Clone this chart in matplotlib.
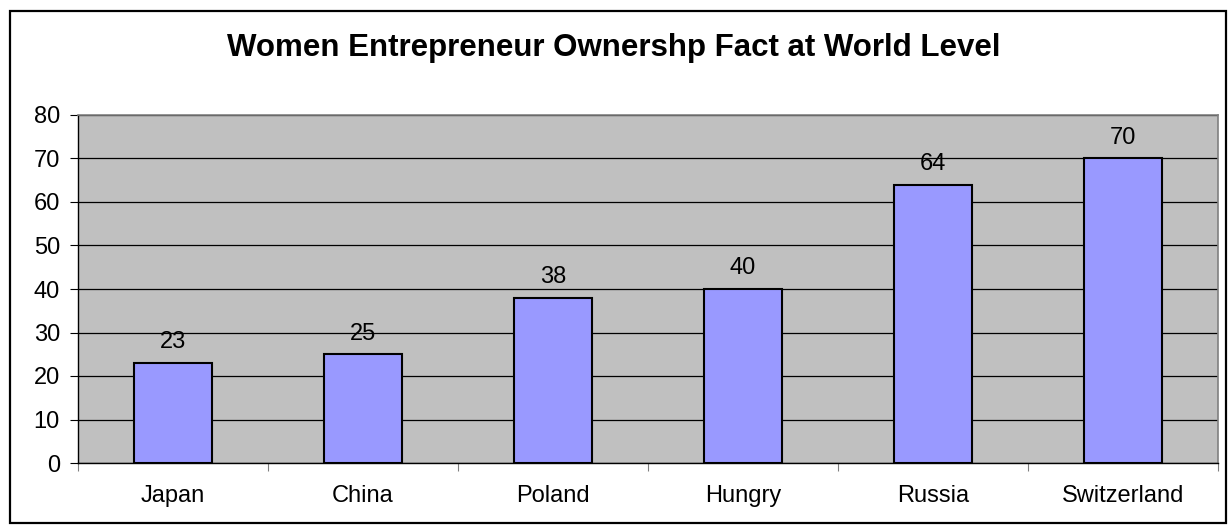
import matplotlib.pyplot as plt
from matplotlib.patches import Rectangle

categories = ["Japan", "China", "Poland", "Hungry", "Russia", "Switzerland"]
values = [23, 25, 38, 40, 64, 70]
yticks = [0, 10, 20, 30, 40, 50, 60, 70, 80]
title = "Women Entrepreneur Ownershp Fact at World Level"

plt.rcParams['font.family'] = ['Liberation Sans', 'DejaVu Sans']

W, H = 1228, 525
fig = plt.figure(figsize=(W / 100, H / 100), dpi=100)
fig.patch.set_facecolor('white')

# outer border
fig.patches.append(Rectangle((10 / W, 2 / H), (1226 - 10) / W, (514 - 2) / H,
                             transform=fig.transFigure, fill=False,
                             edgecolor='black', linewidth=1.6))

left, right, top, bottom = 78, 1218, 115, 463
ax = fig.add_axes([left / W, (H - bottom) / H, (right - left) / W, (bottom - top) / H])
ax.set_facecolor('#C0C0C0')

fs = 17
x = list(range(len(categories)))
ax.bar(x, values, width=0.415, color='#9999FF', edgecolor='black', linewidth=1.5, zorder=3)
for xi, v in zip(x, values):
    ax.annotate(str(v), (xi, v), xytext=(0, 7), textcoords='offset points',
                ha='center', va='bottom', fontsize=fs, color='black', zorder=4)

ax.set_xlim(-0.5, len(categories) - 0.5)
ax.set_ylim(0, 80)
ax.set_yticks(yticks)
ax.set_yticklabels([str(t) for t in yticks], fontsize=fs)
ax.yaxis.grid(True, color='black', linewidth=0.9, zorder=1)
ax.set_axisbelow(True)

ax.set_xticks([i + 0.5 for i in range(-1, len(categories))])
ax.set_xticklabels([])
ax.set_xticks(x, minor=True)
ax.set_xticklabels(categories, minor=True, fontsize=fs)
ax.tick_params(axis='x', which='minor', length=0, pad=16)
ax.tick_params(axis='x', which='major', length=6, width=0.8, color='#808080', direction='out')
ax.tick_params(axis='y', length=6, width=0.8, direction='out', pad=7)

for s in ['top', 'right']:
    ax.spines[s].set_color('#808080')
    ax.spines[s].set_linewidth(1.2)
ax.spines['left'].set_color('black')
ax.spines['bottom'].set_color('black')
ax.spines['left'].set_linewidth(1)
ax.spines['bottom'].set_linewidth(1)

fig.text(614 / W, (H - 48) / H, title, ha='center', va='center',
         fontsize=22.5, fontweight='bold')

fig.savefig('out.png', dpi=100)
